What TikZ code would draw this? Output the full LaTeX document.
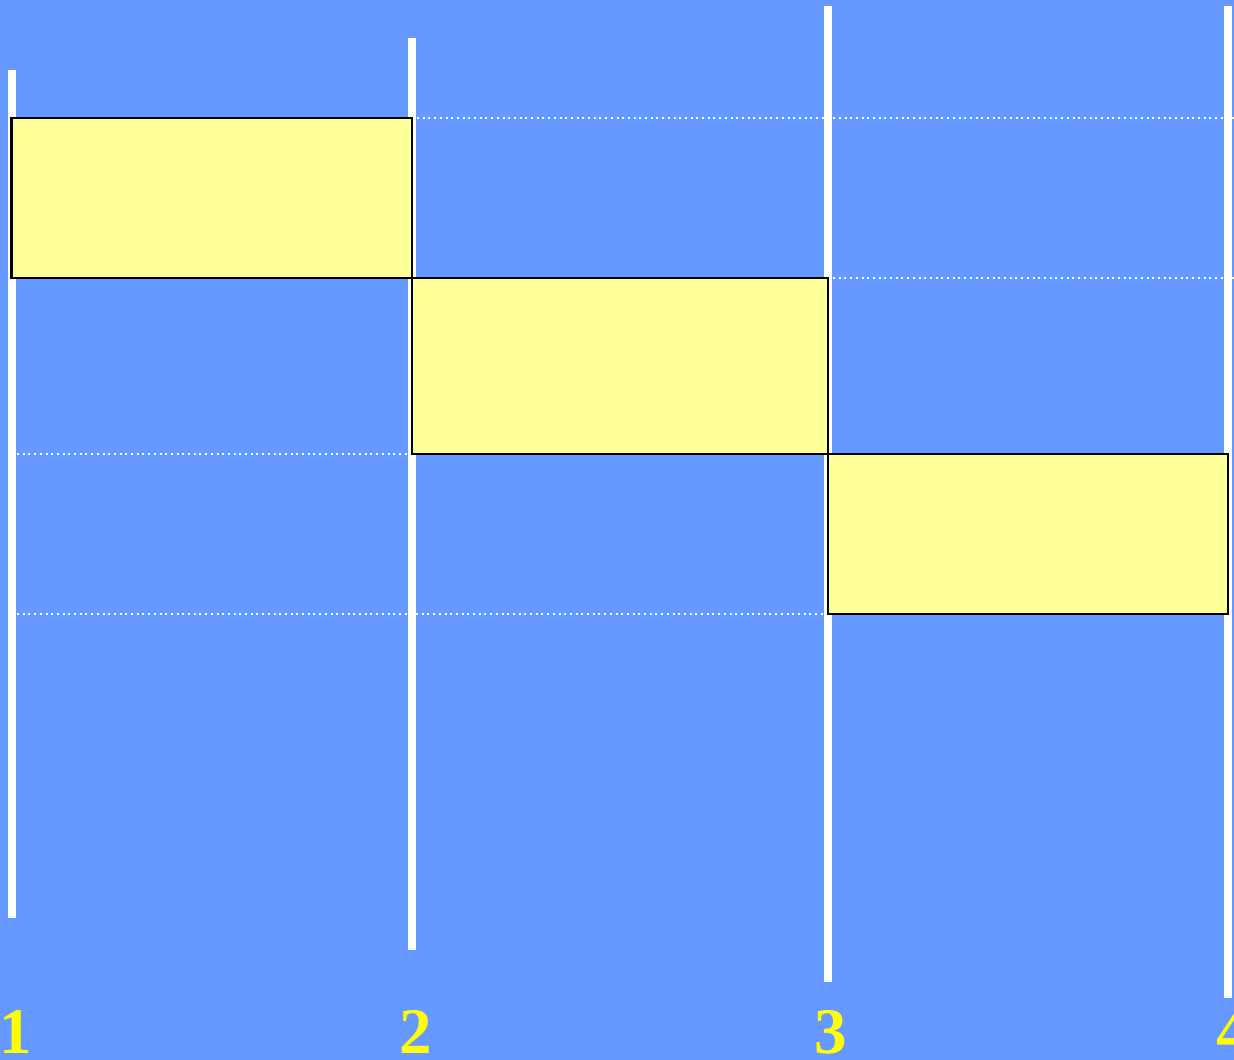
\documentclass[tikz,border=0pt]{standalone}
\usepackage{fontspec}
\setmainfont{Liberation Serif}
\definecolor{bgblue}{HTML}{6699FF}
\definecolor{boxyellow}{HTML}{FFFF99}
\definecolor{labyellow}{HTML}{FFFF00}
\begin{document}
\begin{tikzpicture}[x=1pt,y=-1pt,
  axisline/.style={white,line width=8pt},
  gridline/.style={white,line width=2pt,dash pattern=on 2pt off 3.7pt},
  stagebox/.style={draw=black,line width=2.5pt,fill=boxyellow},
  numlabel/.style={text=labyellow,font=\bfseries\fontsize{65}{65}\selectfont,anchor=base,inner sep=0pt,text depth=0pt}]
\useasboundingbox (0,0) rectangle (1234,1060);
\clip (0,0) rectangle (1234,1060);
\fill[bgblue] (0,0) rectangle (1234,1060);
% dotted guide lines
\draw[gridline] (417,118) -- (1234,118);
\draw[gridline] (833,278) -- (1234,278);
\draw[gridline] (17,454) -- (408,454);
\draw[gridline] (17,614) -- (824,614);
% vertical axes
\coordinate (t1) at (11.5,70);  \coordinate (b1) at (11.5,918);
\coordinate (t2) at (412,38);   \coordinate (b2) at (412,950);
\coordinate (t3) at (828,6);    \coordinate (b3) at (828,982);
\coordinate (t4) at (1228,6);   \coordinate (b4) at (1228,998);
\draw[axisline] (t1) -- (b1);
\draw[axisline] (t2) -- (b2);
\draw[axisline] (t3) -- (b3);
\draw[axisline] (t4) -- (b4);
% boxes
\draw[stagebox] (11.5,118) rectangle (412,278);
\draw[stagebox] (412,278) rectangle (828,454);
\draw[stagebox] (828,454) rectangle (1228,614);
% labels
\node[numlabel] (l1) at (16,1053) {1};
\node[numlabel] (l2) at (416,1053) {2};
\node[numlabel] (l3) at (831,1053) {3};
\node[numlabel] (l4) at (1233,1053) {4};
\end{tikzpicture}
\end{document}
